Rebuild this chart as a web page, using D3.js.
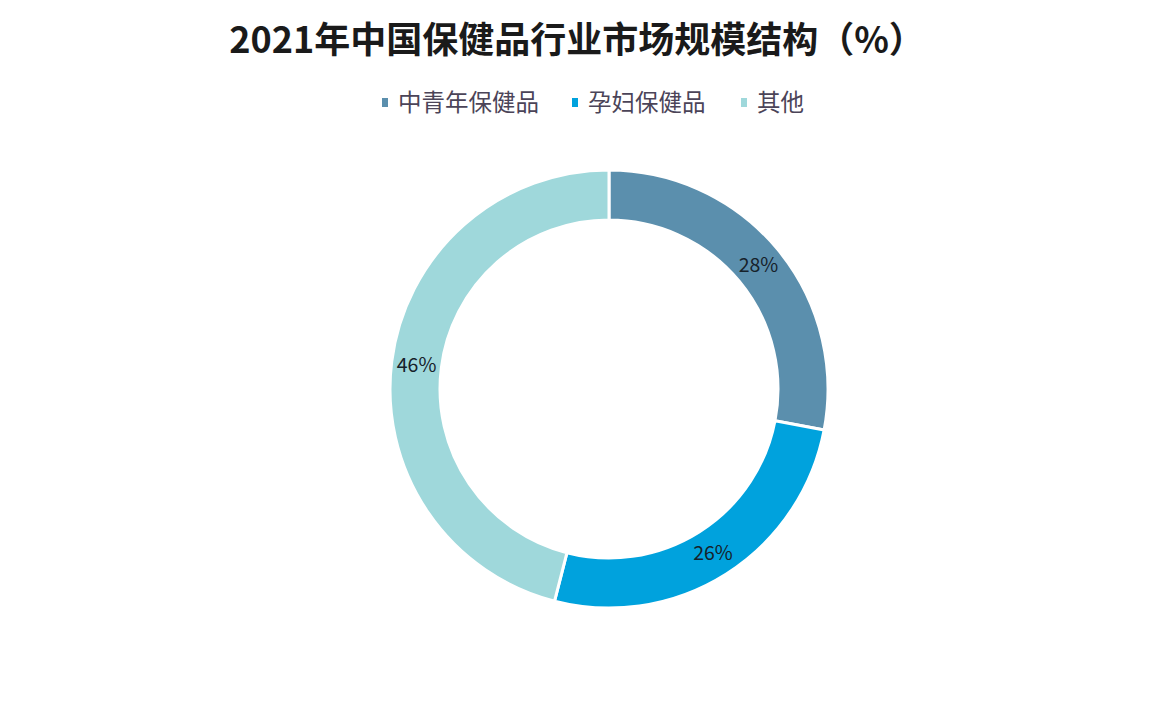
<!DOCTYPE html>
<html>
<head>
<meta charset="utf-8">
<script src="https://cdn.jsdelivr.net/npm/d3@7"></script>
<style>
  body { margin: 0; background: #fff; }
  text { font-family: "Noto Sans CJK SC", "Noto Sans", sans-serif; }
</style>
</head>
<body>
<div id="holder"></div>
<script>
// chart data
var categories = ["中青年保健品", "孕妇保健品", "其他"];
var shares = [28, 26, 46];
var colors = ["#5b8fad", "#00a2dd", "#9fd8db"];

var width = 1176, height = 704;

var svg = d3.select("#holder")
            .append("svg")
            .attr("width", width)
            .attr("height", height);

// title
svg.append("text")
   .attr("x", 577)
   .attr("y", 53)
   .attr("text-anchor", "middle")
   .attr("font-size", 36)
   .attr("font-weight", "bold")
   .attr("fill", "#1a1a1a")
   .text("2021年中国保健品行业市场规模结构（%）");

// legend
var legendX = [382, 572, 741];
var legend = svg.append("g")
   .selectAll("g")
   .data(categories)
   .enter()
   .append("g")
   .attr("transform", (d, i) => "translate(" + legendX[i] + ",102)");

legend.append("rect")
   .attr("x", 0)
   .attr("y", -4)
   .attr("width", 6)
   .attr("height", 9)
   .attr("fill", (d, i) => colors[i]);

legend.append("text")
   .attr("x", 16)
   .attr("y", 9)
   .attr("font-size", 23.5)
   .attr("fill", "#4b4458")
   .text(d => d);

// donut
var cx = 609, cy = 389;
var outerR = 219, innerR = 169;

var pie = d3.pie().sort(null).value(d => d);
var arc = d3.arc().innerRadius(innerR).outerRadius(outerR);

var g = svg.append("g")
   .attr("transform", "translate(" + cx + "," + cy + ")");

var slices = pie(shares);

g.selectAll("path")
 .data(slices)
 .enter()
 .append("path")
 .attr("d", arc)
 .attr("fill", (d, i) => colors[i])
 .attr("stroke", "white")
 .attr("stroke-width", 3);

g.selectAll("text")
 .data(slices)
 .enter()
 .append("text")
 .attr("transform", d => "translate(" + arc.centroid(d) + ")")
 .attr("text-anchor", "middle")
 .attr("dy", "0.35em")
 .attr("font-size", 19.5)
 .attr("fill", "#16212a")
 .text(d => d.data + "%");
</script>
</body>
</html>
